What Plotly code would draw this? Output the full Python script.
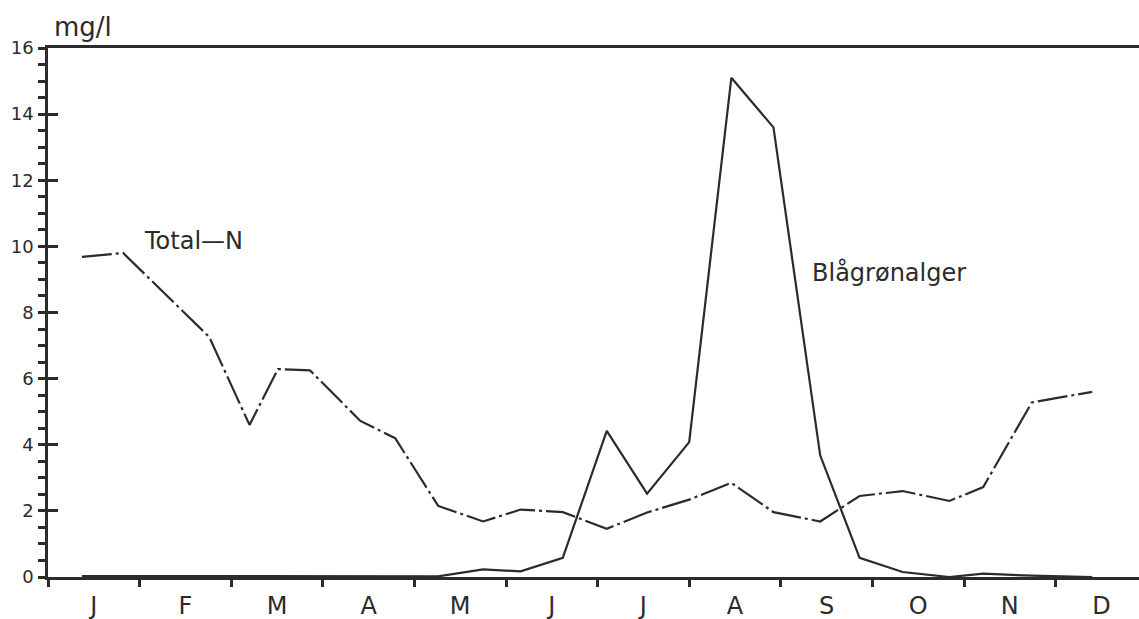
import plotly.graph_objects as go

# Sampling dates as fractional month index (0 = 1 January)
sample_month = [0.37, 0.82, 1.76, 2.20, 2.51, 2.86, 3.41, 3.79, 4.26, 4.75, 5.16, 5.62,
                6.10, 6.54, 7.00, 7.46, 7.92, 8.43, 8.86, 9.33, 9.84, 10.21, 10.74, 11.40]

total_n = [9.68, 9.80, 7.26, 4.60, 6.29, 6.25, 4.72, 4.20, 2.15, 1.68, 2.04, 1.96,
           1.46, 1.95, 2.34, 2.85, 1.96, 1.68, 2.45, 2.60, 2.30, 2.72, 5.28, 5.60]

blagronalger = [0.03, 0.03, 0.03, 0.02, 0.02, 0.02, 0.02, 0.02, 0.02, 0.23, 0.17, 0.58,
                4.42, 2.52, 4.08, 15.10, 13.60, 3.68, 0.58, 0.15, 0.0, 0.10, 0.04, 0.0]

month_labels = ["J", "F", "M", "A", "M", "J", "J", "A", "S", "O", "N", "D"]
month_centers = [i + 0.5 for i in range(12)]
month_bounds = list(range(13))
y_major = [0, 2, 4, 6, 8, 10, 12, 14, 16]
y_minor = [i * 0.5 for i in range(33)]

INK = "#2b2b2b"
FONT = "DejaVu Sans"

fig = go.Figure()

fig.add_trace(go.Scatter(
    x=sample_month, y=total_n, mode="lines",
    line=dict(color=INK, width=2.2, dash="30px,4px,3px,4px"),
    name="Total-N", showlegend=False, hoverinfo="skip"))

fig.add_trace(go.Scatter(
    x=sample_month, y=blagronalger, mode="lines",
    line=dict(color=INK, width=2.2),
    name="Blågrønalger", showlegend=False, hoverinfo="skip"))

XR = [0, 1091 / 91.6]
YR = [0, 16]

fig.update_layout(
    width=1139, height=619,
    margin=dict(l=48, r=0, t=48, b=42),
    paper_bgcolor="white", plot_bgcolor="white",
    font=dict(family=FONT, color=INK),
    xaxis=dict(range=XR, tickmode="array", tickvals=month_centers, ticktext=month_labels,
               ticks="", showgrid=False, zeroline=False, showline=True, mirror=True,
               linecolor=INK, linewidth=2.5, tickfont=dict(size=24, family=FONT, color=INK),
               ticklabelstandoff=5),
    xaxis2=dict(range=XR, overlaying="x", anchor="y", tickmode="array", tickvals=month_bounds,
                ticks="outside", ticklen=9, tickwidth=2.5, tickcolor=INK,
                showticklabels=False, showgrid=False, zeroline=False, showline=False),
    yaxis=dict(range=YR, tickmode="array", tickvals=y_minor,
               ticktext=[(str(int(v)) if v in y_major else "") for v in y_minor],
               ticks="outside", ticklen=7, tickwidth=2.5, tickcolor=INK,
               showgrid=False, zeroline=False, showline=True, linecolor=INK, linewidth=2.5,
               tickfont=dict(size=18, family=FONT, color=INK), ticklabelstandoff=1),
    yaxis2=dict(range=YR, overlaying="y", anchor="x", side="left", tickmode="array",
                tickvals=y_major, ticks="inside", ticklen=10, tickwidth=2.5, tickcolor=INK,
                showticklabels=False, showgrid=False, zeroline=False, showline=False),
)

# invisible traces to activate overlay axes
fig.add_trace(go.Scatter(x=[None], y=[None], xaxis="x2", yaxis="y", showlegend=False,
                         hoverinfo="skip"))
fig.add_trace(go.Scatter(x=[None], y=[None], xaxis="x", yaxis="y2", showlegend=False,
                         hoverinfo="skip"))

fig.add_annotation(x=0.004, y=1.04, xref="paper", yref="paper", text="mg/l", showarrow=False,
                   xanchor="left", yanchor="middle", font=dict(size=26, family=FONT, color=INK))
fig.add_annotation(x=1.03, y=10.16, xref="x", yref="y", text="Total—N", showarrow=False,
                   xanchor="left", yanchor="middle", font=dict(size=24, family=FONT, color=INK))
fig.add_annotation(x=8.32, y=9.2, xref="x", yref="y", text="Blågrønalger", showarrow=False,
                   xanchor="left", yanchor="middle", font=dict(size=24, family=FONT, color=INK))

fig.write_html("out.html")
